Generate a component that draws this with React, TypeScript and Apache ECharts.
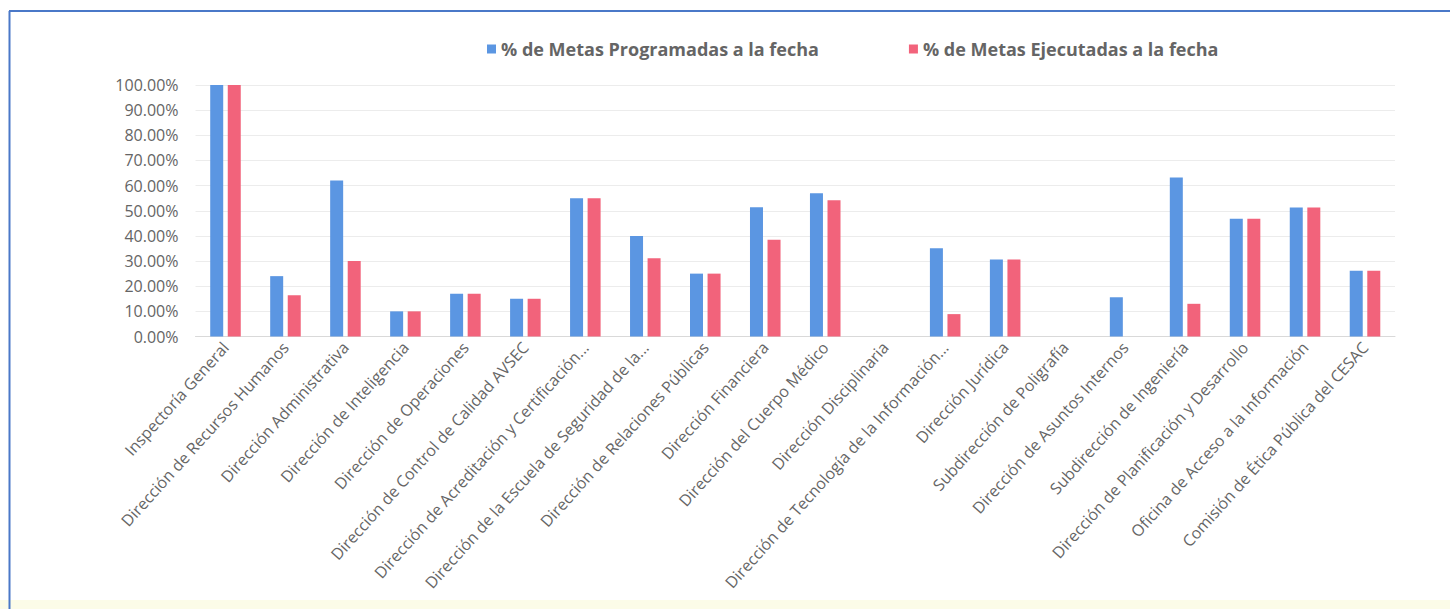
import React, { useEffect, useRef } from "react";
import * as echarts from "echarts";

const categories = [
  "Inspectoría General",
  "Dirección de Recursos Humanos",
  "Dirección Administrativa",
  "Dirección de Inteligencia",
  "Dirección de Operaciones",
  "Dirección de Control de Calidad AVSEC",
  "Dirección de Acreditación y Certificación...",
  "Dirección de la Escuela de Seguridad de la...",
  "Dirección de Relaciones Públicas",
  "Dirección Financiera",
  "Dirección del Cuerpo Médico",
  "Dirección Disciplinaria",
  "Dirección de Tecnología de la Información...",
  "Dirección Jurídica",
  "Subdirección de Poligrafía",
  "Dirección de Asuntos Internos",
  "Subdirección de Ingeniería",
  "Dirección de Planificación y Desarrollo",
  "Oficina de Acceso a la Información",
  "Comisión de Ética Pública del CESAC",
];

const programadas = [
  1.0, 0.24, 0.62, 0.1, 0.17, 0.15, 0.55, 0.4, 0.25, 0.514, 0.57, 0, 0.351,
  0.306, 0, 0.156, 0.632, 0.468, 0.513, 0.261,
];

const ejecutadas = [
  1.0, 0.164, 0.3, 0.1, 0.17, 0.15, 0.55, 0.311, 0.25, 0.385, 0.542, 0, 0.089,
  0.306, 0, 0, 0.13, 0.468, 0.513, 0.261,
];

const seriesNames = [
  "% de Metas Programadas a la fecha",
  "% de Metas Ejecutadas a la fecha",
];

const FONT = "'Open Sans', sans-serif";
const TEXT = "#656565";

export default function App() {
  const ref = useRef<HTMLDivElement>(null);

  useEffect(() => {
    if (!ref.current) return;
    const chart = echarts.init(ref.current, undefined, { renderer: "svg" });
    chart.setOption({
      animation: false,
      backgroundColor: "#ffffff",
      textStyle: { fontFamily: FONT },
      graphic: [
        {
          type: "rect",
          shape: { x: 0, y: 600, width: 1450, height: 9 },
          style: { fill: "#fcfce8" },
          silent: true,
        },
        {
          type: "line",
          shape: { x1: 9, y1: 11, x2: 1450, y2: 11 },
          style: { stroke: "#4a78c8", lineWidth: 2 },
          silent: true,
        },
        {
          type: "line",
          shape: { x1: 9.5, y1: 11, x2: 9.5, y2: 609 },
          style: { stroke: "#4a78c8", lineWidth: 2 },
          silent: true,
        },
      ],
      legend: {
        left: 482,
        top: 35,
        itemWidth: 9,
        itemHeight: 9,
        itemGap: 90,
        icon: "rect",
        textStyle: {
          color: TEXT,
          fontSize: 18,
          fontWeight: "bold",
          fontFamily: FONT,
        },
        data: seriesNames,
      },
      grid: {
        left: 195.5,
        right: 55,
        top: 85,
        bottom: 272.5,
        containLabel: false,
      },
      xAxis: {
        type: "category",
        data: categories,
        axisTick: { show: false },
        axisLine: { lineStyle: { color: "#d9d9d9" } },
        axisLabel: {
          rotate: 48,
          interval: 0,
          margin: 8,
          color: TEXT,
          fontSize: 16,
          fontFamily: FONT,
        },
      },
      yAxis: {
        type: "value",
        min: 0,
        max: 1,
        interval: 0.1,
        axisLine: { show: false },
        axisTick: { show: false },
        splitLine: { lineStyle: { color: "#ececec" } },
        axisLabel: {
          margin: 17,
          color: TEXT,
          fontSize: 16,
          fontFamily: FONT,
          formatter: (v: number) => (v * 100).toFixed(2) + "%",
        },
      },
      series: [
        {
          name: seriesNames[0],
          type: "bar",
          data: programadas,
          barWidth: 13,
          barGap: "35%",
          itemStyle: { color: "#5b96e2" },
        },
        {
          name: seriesNames[1],
          type: "bar",
          data: ejecutadas,
          barWidth: 13,
          itemStyle: { color: "#f2637b" },
        },
      ],
    });
    return () => chart.dispose();
  }, []);

  return (
    <div
      ref={ref}
      style={{
        position: "fixed",
        left: 0,
        top: 0,
        width: 1450,
        height: 609,
      }}
    />
  );
}
